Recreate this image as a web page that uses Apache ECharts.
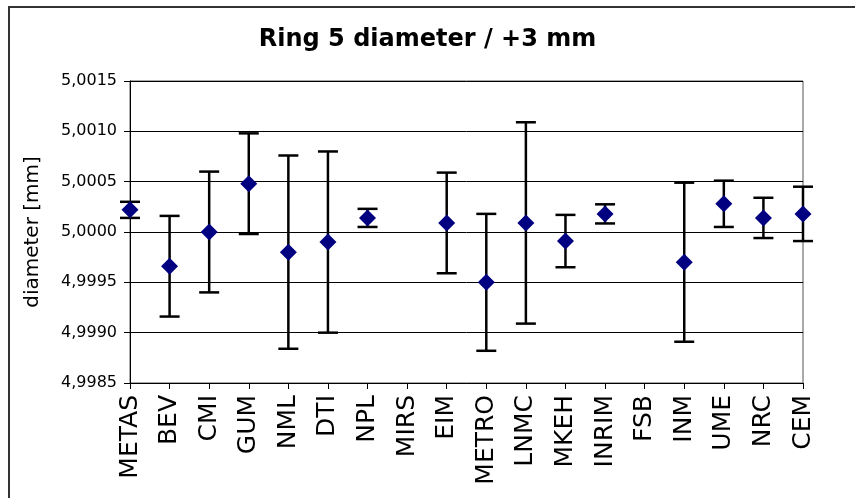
<!DOCTYPE html>
<html>
<head>
<meta charset="utf-8">
<script src="https://cdn.jsdelivr.net/npm/echarts@6/dist/echarts.min.js"></script>
<style>
  html, body { margin: 0; padding: 0; background: #fff; }
  #main { width: 855px; height: 498px; }
</style>
</head>
<body>
<div id="main"></div>
<script>
// laboratories along the x axis
var labs = ['METAS', 'BEV', 'CMI', 'GUM', 'NML', 'DTI', 'NPL', 'MIRS', 'EIM',
            'METRO', 'LNMC', 'MKEH', 'INRIM', 'FSB', 'INM', 'UME', 'NRC', 'CEM'];
// measured diameter in mm (null = no result)
var diameters = [5.00022, 4.99966, 5.00000, 5.00048, 4.99980, 4.99990, 5.00014, null, 5.00009,
                 4.99950, 5.00009, 4.99991, 5.00018, null, 4.99970, 5.00028, 5.00014, 5.00018];
// half length of error bar in mm
var uncert = [0.00008, 0.00050, 0.00060, 0.00050, 0.00096, 0.00090, 0.00009, null, 0.00050,
              0.00068, 0.00100, 0.00026, 0.000095, null, 0.00079, 0.00023, 0.00020, 0.00027];
var yTicks = { min: 4.9985, max: 5.0015, step: 0.0005 };

var errData = [];
for (var i = 0; i < labs.length; i++) {
  if (diameters[i] == null) continue;
  errData.push([i, diameters[i], diameters[i] + uncert[i], diameters[i] - uncert[i]]);
}

function renderErr(params, api) {
  var hi = api.coord([api.value(0), api.value(2)]);
  var lo = api.coord([api.value(0), api.value(3)]);
  var x = hi[0], w = 10;
  var st = { stroke: '#000', lineWidth: 2.5 };
  return {
    type: 'group',
    children: [
      { type: 'line', shape: { x1: x, y1: hi[1], x2: x, y2: lo[1] }, style: st },
      { type: 'line', shape: { x1: x - w, y1: hi[1], x2: x + w, y2: hi[1] }, style: st },
      { type: 'line', shape: { x1: x - w, y1: lo[1], x2: x + w, y2: lo[1] }, style: st }
    ]
  };
}

var myChart = echarts.init(document.getElementById('main'));
var font = 'DejaVu Sans';
var option = {
  animation: false,
  backgroundColor: '#fff',
  title: {
    text: 'Ring 5 diameter / +3 mm',
    left: 'center',
    top: 23,
    textStyle: { fontFamily: font, fontWeight: 'bold', fontSize: 24, color: '#000' }
  },
  graphic: [{
    type: 'rect',
    z: -1,
    shape: { x: 9, y: 7, width: 1000, height: 1000 },
    style: { fill: null, stroke: '#333', lineWidth: 2 }
  }],
  grid: {
    left: 130, right: 52, top: 81, bottom: 115,
    show: true, borderColor: '#555', borderWidth: 1
  },
  xAxis: {
    type: 'category',
    data: labs,
    boundaryGap: false,
    axisLine: { lineStyle: { color: '#000', width: 1 } },
    axisTick: { show: true, length: 6, lineStyle: { color: '#000' } },
    axisLabel: { rotate: 90, margin: 12, interval: 0, fontFamily: font, fontSize: 25, color: '#000' },
    splitLine: { show: false }
  },
  yAxis: {
    type: 'value',
    min: yTicks.min,
    max: yTicks.max,
    interval: yTicks.step,
    name: 'diameter [mm]',
    nameLocation: 'middle',
    nameRotate: 90,
    nameGap: 87,
    nameTextStyle: { fontFamily: font, fontSize: 20, color: '#000' },
    axisLine: { show: true, lineStyle: { color: '#000', width: 1 } },
    axisTick: { show: true, length: 6, lineStyle: { color: '#000' } },
    axisLabel: {
      margin: 13, fontFamily: font, fontSize: 16, color: '#000',
      formatter: function (v) { return v.toFixed(4).replace('.', ','); }
    },
    splitLine: { show: true, lineStyle: { color: '#000', width: 1 } }
  },
  series: [
    {
      type: 'custom',
      renderItem: renderErr,
      data: errData,
      clip: false,
      z: 2
    },
    {
      type: 'scatter',
      data: diameters.map(function (v) { return v == null ? '-' : v; }),
      symbol: 'diamond',
      symbolSize: 17,
      itemStyle: { color: '#000080', opacity: 1 },
      z: 3
    }
  ]
};
myChart.setOption(option);
</script>
</body>
</html>
